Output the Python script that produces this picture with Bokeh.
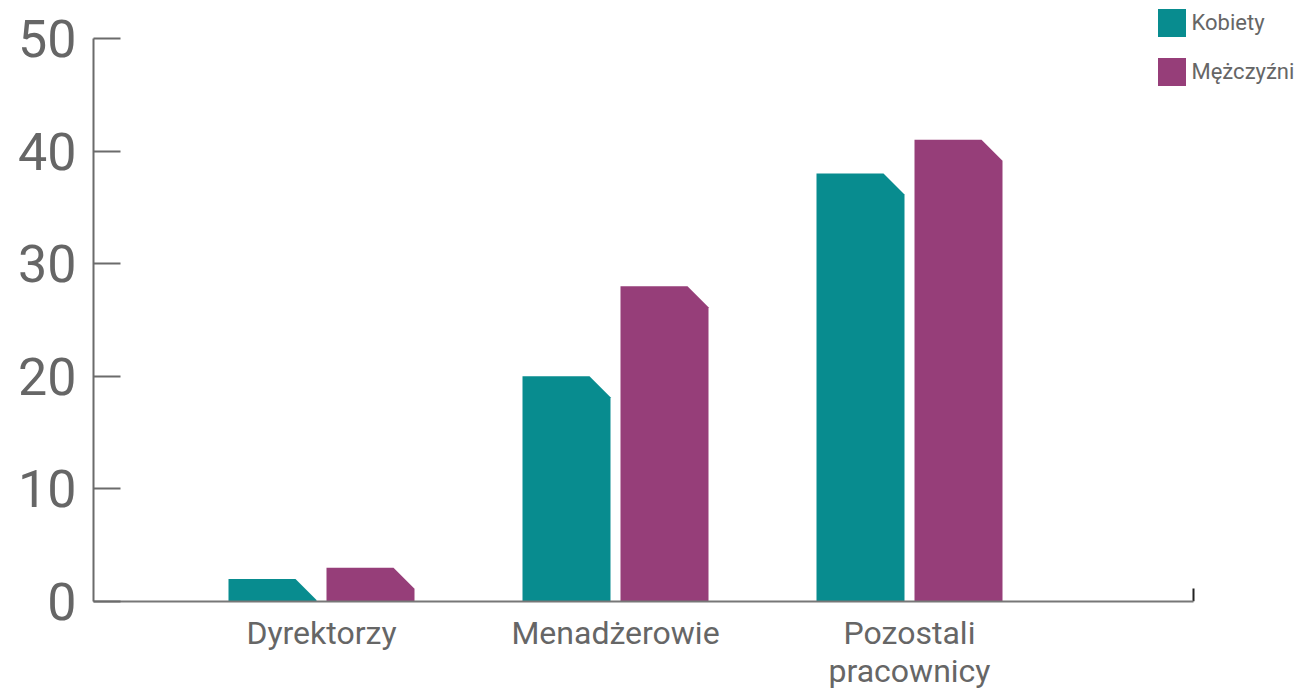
from bokeh.plotting import figure
from bokeh.models import FixedTicker, Range1d, Legend, LegendItem
from bokeh.embed import file_html
from bokeh.resources import INLINE

# ---- data ----
categories = ["Dyrektorzy", "Menadżerowie", "Pozostali\npracownicy"]
series_names = ["Kobiety", "Mężczyźni"]
kobiety = [2, 20, 38]
mezczyzni = [3, 28, 41]
y_ticks = [0, 10, 20, 30, 40, 50]
colors = ["#088c8f", "#963e79"]

# ---- layout constants (pixels) ----
PX_X = 294.0            # px per category step
PX_Y = 563.0 / 50.0     # px per unit on y
FRAME_W, FRAME_H = 1201, 593
x_start = -228.0 / PX_X
x_end = x_start + FRAME_W / PX_X
x_axis_end = x_start + 1100.0 / PX_X
y_end = FRAME_H / PX_Y

bw = 88.0 / PX_X
off = 49.0 / PX_X
cx = 21.0 / PX_X
cy = 21.0 / PX_Y

p = figure(frame_width=FRAME_W, frame_height=FRAME_H,
           x_range=Range1d(x_start, x_end), y_range=Range1d(0, y_end),
           output_backend="svg", toolbar_location=None,
           min_border_left=93, min_border_right=0, min_border_top=8,
           min_border_bottom=87)
p.outline_line_color = None
p.grid.visible = False
p.background_fill_color = "white"
p.border_fill_color = "white"


def chamfer_bar(xc, h):
    x0 = xc - bw / 2
    x1 = xc + bw / 2
    if h >= cy:
        xs = [x0, x0, x1 - cx, x1, x1]
        ys = [0, h, h, h - cy, 0]
    else:
        xs = [x0, x0, x1 - cx, x1 - cx + cx * h / cy]
        ys = [0, h, h, 0]
    return xs, ys


renderers = []
for si, (vals, col, sign) in enumerate([(kobiety, colors[0], -1), (mezczyzni, colors[1], 1)]):
    xs_all, ys_all = [], []
    for ci, v in enumerate(vals):
        xs, ys = chamfer_bar(ci + sign * off, v)
        xs_all.append(xs)
        ys_all.append(ys)
    r = p.patches(xs_all, ys_all, fill_color=col, line_color=None)
    renderers.append(r)

# ---- axes ----
ya = p.yaxis[0]
ya.ticker = FixedTicker(ticks=y_ticks)
ya.bounds = (0, 50)
ya.axis_line_color = "#6b6b6b"
ya.axis_line_width = 2
ya.major_tick_line_color = "#6b6b6b"
ya.major_tick_line_width = 2
ya.major_tick_in = 27
ya.major_tick_out = 0
ya.minor_tick_line_color = None
ya.major_label_text_font = "Roboto"
ya.major_label_text_font_size = "52px"
ya.major_label_text_color = "#666666"
ya.major_label_standoff = 17

xa = p.xaxis[0]
xa.ticker = FixedTicker(ticks=list(range(len(categories))))
xa.major_label_overrides = {i: c for i, c in enumerate(categories)}
xa.bounds = (x_start, x_axis_end)
xa.axis_line_color = "#777777"
xa.axis_line_width = 2
xa.major_tick_line_color = None
xa.minor_tick_line_color = None
xa.major_label_text_font = "Roboto"
xa.major_label_text_font_size = "32px"
xa.major_label_text_color = "#666666"
xa.major_label_text_line_height = 1.02
xa.major_label_standoff = 6

# right-end tick of the x axis
p.segment(x0=[x_axis_end], y0=[0], x1=[x_axis_end], y1=[13.0 / PX_Y],
          line_color="#222222", line_width=2)

# ---- legend ----
legend = Legend(items=[LegendItem(label=n, renderers=[r]) for n, r in zip(series_names, renderers)],
                location=(1060.5, 512.5), orientation="vertical",
                glyph_width=35, glyph_height=35, label_height=35,
                label_standoff=3, spacing=14, padding=0, margin=0,
                border_line_color=None, background_fill_alpha=0,
                label_text_font="Roboto", label_text_font_size="22px",
                label_text_color="#666666")
p.add_layout(legend, "center")

open("out.html", "w").write(file_html(p, INLINE))
